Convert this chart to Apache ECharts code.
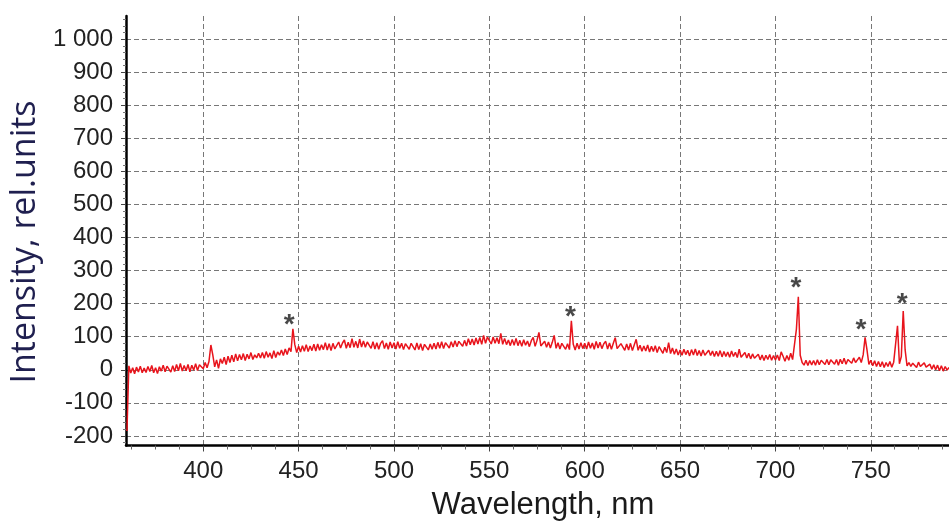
<!DOCTYPE html>
<html>
<head>
    <meta charset="UTF-8">
    <title>Spectrum</title>
    <script src="https://cdn.jsdelivr.net/npm/echarts@6/dist/echarts.min.js"></script>
    <style>
        html, body { margin: 0; padding: 0; background: #fff; }
        #main { width: 949px; height: 521px; }
    </style>
</head>
<body>
<div id="main"></div>
<script>
    // intensity, one value per nm starting at 360 nm
    var wlStart = 360;
    var intensity = [
        -185, 12, -10, 6, -12, 8, -7, 11, -9, 5,
        -8, 10, -5, 13, -9, 6, -11, 9, -4, 14,
        -6, 11, 15, -7, 12, -5, 16, -3, 19, -4,
        13, -3, 16, -6, 14, -1, 18, -2, 15, 21,
        3, 22, 6, 25, 75, 45, 9, 30, 4, 33,
        19, 38, 16, 41, 22, 44, 24, 48, 27, 46,
        30, 49, 28, 47, 33, 52, 31, 45, 36, 50,
        36, 52, 35, 55, 38, 51, 34, 58, 37, 54,
        44, 60, 43, 63, 46, 66, 55, 124, 76, 52,
        71, 54, 73, 56, 76, 55, 72, 58, 77, 57,
        78, 59, 76, 61, 82, 60, 79, 58, 80, 63,
        64, 84, 66, 81, 90, 65, 83, 67, 94, 68,
        86, 66, 93, 69, 87, 68, 84, 90, 65, 85,
        63, 82, 62, 80, 88, 64, 81, 62, 84, 66,
        82, 63, 85, 65, 80, 61, 79, 84, 62, 80,
        78, 60, 81, 61, 79, 58, 77, 82, 60, 78,
        62, 80, 63, 83, 65, 85, 64, 82, 88, 66,
        85, 69, 88, 70, 86, 92, 71, 89, 72, 94,
        76, 93, 75, 96, 78, 98, 77, 104, 80, 99,
        96, 78, 99, 80, 97, 79, 110, 77, 95, 76,
        90, 73, 92, 74, 95, 73, 89, 71, 91, 74,
        87, 70, 88, 98, 71, 89, 113, 72, 68, 86,
        68, 84, 66, 83, 104, 65, 82, 63, 80, 86,
        62, 79, 61, 148, 77, 60, 80, 63, 82, 64,
        80, 63, 84, 65, 81, 62, 86, 66, 83, 64,
        79, 86, 63, 81, 62, 80, 97, 64, 60, 79,
        75, 59, 78, 60, 80, 58, 76, 92, 59, 74,
        56, 72, 57, 75, 54, 71, 55, 73, 52, 70,
        65, 50, 68, 52, 82, 49, 66, 47, 63, 45,
        60, 44, 62, 46, 59, 42, 61, 45, 63, 43,
        58, 42, 60, 44, 40, 59, 43, 57, 40, 56,
        41, 58, 39, 55, 40, 54, 38, 57, 40, 53,
        37, 62, 38, 34, 52, 36, 50, 33, 48, 35,
        32, 47, 30, 45, 28, 44, 31, 46, 29, 43,
        30, 45, 28, 54, 41, 26, 43, 29, 50, 31,
        28, 123, 221, 44, 22, 14, 29, 13, 28, 15,
        28, 14, 30, 15, 29, 34, 16, 31, 15, 30,
        33, 17, 31, 14, 32, 18, 35, 17, 31, 34,
        20, 36, 22, 30, 38, 22, 45, 98, 60, 16,
        29, 12, 27, 10, 25, 9, 24, 7, 22, 10,
        25, 8, 23, 28, 133, 18, 40, 178, 60, 12,
        22, 10, 20, 24, 7, 23, 10, 5, 21, 8,
        3, 17, 2, 15, 0, 14, -3, 12, -4, 10,
        -1, 7
    ];

    // asterisks over the marked lines: [wavelength, intensity]
    var starMarks = [[445, 153], [592.5, 176], [710.7, 264], [744.8, 138], [766.4, 217]];

    var xTicks = [400, 450, 500, 550, 600, 650, 700, 750];
    var xMinorTicks = [362.5, 375, 387.5, 412.5, 425, 437.5, 462.5, 475, 487.5, 512.5, 525, 537.5,
        562.5, 575, 587.5, 612.5, 625, 637.5, 662.5, 675, 687.5, 712.5, 725, 737.5, 762.5, 775, 787.5];
    var yTicks = [-200, -100, 0, 100, 200, 300, 400, 500, 600, 700, 800, 900, 1000];
    var yMinorTicks = [];
    yTicks.forEach(function (t) {
        [20, 40, 60, 80].forEach(function (d) { yMinorTicks.push(t + d); });
    });
    yMinorTicks.unshift(-220);
    yMinorTicks.push(1020, 1040, 1060);

    var xMin = 359.5, xMax = 791, yMin = -229, yMax = 1070;

    var spectrum = intensity.map(function (v, i) { return [wlStart + i, v]; });

    var myChart = echarts.init(document.getElementById('main'));
    var option = {
        animation: false,
        backgroundColor: '#fff',
        grid: { left: 126, right: 0, top: 16, bottom: 75.5, containLabel: false },
        xAxis: [{
            type: 'value', min: xMin, max: xMax,
            axisLine: { onZero: false, lineStyle: { color: '#000', width: 2.5 } },
            axisTick: { customValues: xTicks, length: 6, lineStyle: { color: '#444', width: 1 } },
            axisLabel: {
                customValues: xTicks, margin: 14, fontSize: 24, color: '#222',
                fontFamily: 'Liberation Sans, Arial'
            },
            splitLine: { show: true, lineStyle: { type: [5, 3], color: '#777', width: 1 } }
        }, {
            type: 'value', min: xMin, max: xMax, position: 'bottom',
            axisLine: { show: false, onZero: false },
            axisTick: { customValues: xMinorTicks, length: 4, lineStyle: { color: '#666', width: 1 } },
            axisLabel: { show: false },
            splitLine: { show: false }
        }],
        yAxis: [{
            type: 'value', min: yMin, max: yMax,
            axisLine: { show: true, onZero: false, lineStyle: { color: '#000', width: 2.5 } },
            axisTick: { show: true, customValues: yTicks, length: 5, lineStyle: { color: '#444', width: 1 } },
            axisLabel: {
                customValues: yTicks, margin: 13, fontSize: 24, color: '#222',
                fontFamily: 'Liberation Sans, Arial',
                formatter: function (v) { return String(v).replace(/\B(?=(\d{3})+(?!\d))/g, ' '); }
            },
            splitLine: { show: true, lineStyle: { type: [5, 3], color: '#777', width: 1 } }
        }, {
            type: 'value', min: yMin, max: yMax, position: 'left',
            axisLine: { show: false, onZero: false },
            axisTick: { show: true, customValues: yMinorTicks, length: 3, lineStyle: { color: '#777', width: 1 } },
            axisLabel: { show: false },
            splitLine: { show: false }
        }],
        graphic: [{
            type: 'text', x: 25, y: 242, rotation: Math.PI / 2,
            style: {
                text: 'Intensity, rel.units', fill: '#1f1f4f',
                font: '34px "Open Sans"', textAlign: 'center', textVerticalAlign: 'middle'
            }
        }, {
            type: 'text', x: 543, y: 505,
            style: {
                text: 'Wavelength, nm', fill: '#1a1a1a',
                font: '31px "Liberation Sans", Arial', textAlign: 'center', textVerticalAlign: 'middle'
            }
        }],
        series: [{
            name: 'Intensity',
            type: 'line',
            xAxisIndex: 0, yAxisIndex: 0,
            showSymbol: false,
            sampling: false,
            lineStyle: { color: '#e8141c', width: 1.5 },
            itemStyle: { color: '#e8141c' },
            data: spectrum,
            z: 3
        }, {
            name: 'marks',
            type: 'scatter',
            xAxisIndex: 0, yAxisIndex: 0,
            symbolSize: 1,
            itemStyle: { color: 'rgba(0,0,0,0)' },
            label: {
                show: true, position: 'inside', formatter: '*', offset: [0, 6],
                fontSize: 28, fontWeight: 'bold', color: '#1a1a1a', fontFamily: 'Liberation Sans, Arial'
            },
            data: starMarks,
            z: 4
        }]
    };
    myChart.setOption(option);
</script>
</body>
</html>
